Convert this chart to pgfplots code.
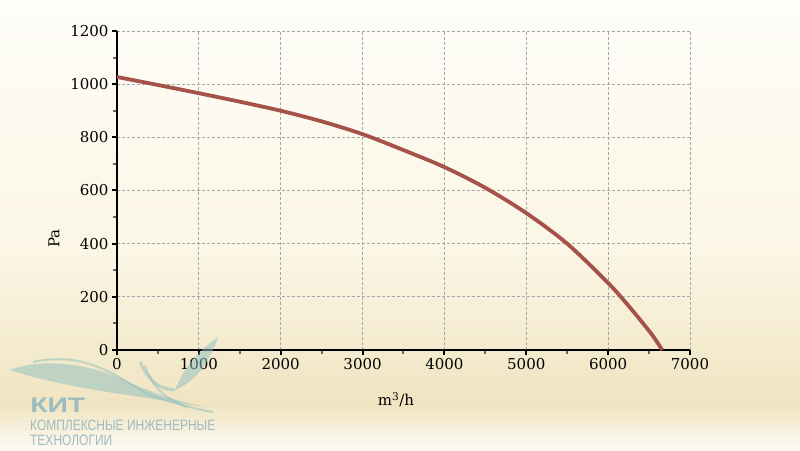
\documentclass[border=0pt]{standalone}
\usepackage{pgfplots}
\pgfplotsset{compat=1.18}
\usepackage{fontspec}
\setmainfont{DejaVu Serif}
\newfontfamily\logofont{Liberation Sans}
\definecolor{curve}{HTML}{A5524A}
\definecolor{logo}{HTML}{9DBCC2}
\definecolor{swoosh}{HTML}{8DBFC0}
\definecolor{bgA}{HTML}{FEFDF8}
\definecolor{bgB}{HTML}{FBF6E5}
\definecolor{bgC}{HTML}{F0E4C1}
\definecolor{bgD}{HTML}{FCFAF3}
\begin{document}
\begin{tikzpicture}[x=1pt,y=1pt]
\shade[top color=bgA, bottom color=bgB] (0,200) rectangle (800,450);
\shade[top color=bgB, bottom color=bgC] (0,45) rectangle (800,200.5);
\shade[top color=bgC, bottom color=bgD] (0,0) rectangle (800,45.5);
\begin{axis}[
  at={(117pt,100pt)}, anchor=south west,
  scale only axis, width=573pt, height=319pt,
  xmin=0, xmax=7000, ymin=0, ymax=1200,
  xtick={0,1000,...,7000}, ytick={0,200,...,1200},
  minor x tick num=1, minor y tick num=1,
  axis x line=bottom, axis y line=left,
  axis line style={-, line width=2pt, black},
  tick align=outside, major tick length=5pt, minor tick length=4pt,
  every tick/.style={black, line width=2pt},
  every minor tick/.append style={black!60, line width=2pt},
  grid=major, major grid style={dash pattern=on 3pt off 2pt, black!35, line width=0.8pt},
  ticklabel style={font=\fontsize{15}{18}\selectfont},
  label style={font=\fontsize{15}{18}\selectfont},
  /pgf/number format/1000 sep={},
  /pgf/number format/assume math mode=true,
  xlabel={m\textsuperscript{3}/h},
  ylabel={Pa},
  xlabel style={at={(axis description cs:0.487,-0.157)}, anchor=center},
  ylabel style={at={(axis description cs:-0.11,0.35)}, anchor=center},
]
\addplot[curve, line width=3.8pt, smooth] coordinates {
(0,1027) (500,997) (1000,966) (1500,934) (2000,900) (2500,860)
(3000,812) (3500,752) (4000,688) (4500,610) (5000,515) (5500,400)
(6000,252) (6250,166) (6500,72) (6600,29) (6660,0)
};
\end{axis}
% watermark logo
\begin{scope}[opacity=0.5]
\fill[swoosh] (10,80) .. controls (40,92) and (90,88) .. (133,66)
  .. controls (165,52) and (195,44) .. (215,42)
  .. controls (180,46) and (150,52) .. (120,56)
  .. controls (80,62) and (40,70) .. (10,80) -- cycle;
\draw[swoosh, line width=2pt] (33,88) .. controls (90,100) and (120,70) .. (150,55) .. controls (175,46) and (200,40) .. (213,38);
\draw[swoosh, line width=3pt] (140,88) .. controls (148,70) and (160,60) .. (175,60);
\fill[swoosh] (175,60) .. controls (200,70) and (212,95) .. (218,113)
  .. controls (200,100) and (185,85) .. (175,60) -- cycle;
\draw[swoosh, line width=2pt] (145,84) .. controls (155,55) and (175,48) .. (187,43);
\end{scope}
\node[anchor=base west, inner sep=0, text=logo, xscale=1.35] at (30,38) {\logofont\bfseries\fontsize{21}{21}\selectfont КИТ};
\node[anchor=base west, inner sep=0, text=logo, xscale=0.8] at (30,20) {\logofont\fontsize{15}{15}\selectfont КОМПЛЕКСНЫЕ ИНЖЕНЕРНЫЕ};
\node[anchor=base west, inner sep=0, text=logo, xscale=0.8] at (30,5) {\logofont\fontsize{15}{15}\selectfont ТЕХНОЛОГИИ};
\end{tikzpicture}
\end{document}
